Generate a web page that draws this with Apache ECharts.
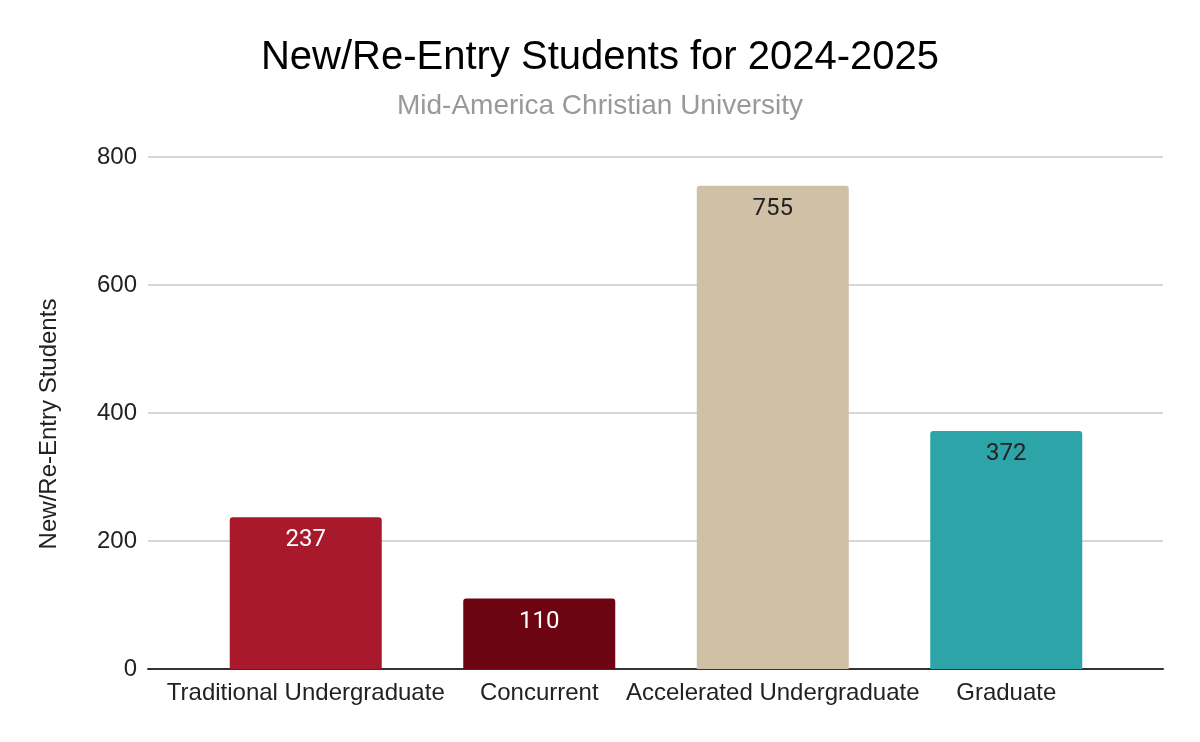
<!DOCTYPE html>
<html><head><meta charset="utf-8">
<script src="https://cdn.jsdelivr.net/npm/echarts@6/dist/echarts.min.js"></script>
<style>html,body{margin:0;padding:0;background:#fff}#c{width:1200px;height:742px}</style>
</head><body><div id="c"></div>
<script>
const categories = ["Traditional Undergraduate", "Concurrent", "Accelerated Undergraduate", "Graduate"];
const values = [237, 110, 755, 372];
const barColors = ["#a8192c", "#6d0411", "#d0c1a6", "#2ca4a8"];
const labelColors = ["#ffffff", "#ffffff", "#222222", "#222222"];
const yTicks = [0, 200, 400, 600, 800];

const chart = echarts.init(document.getElementById('c'));
const font = 'Arial, "Liberation Sans", sans-serif';
chart.setOption({
  animation: false,
  title: {
    text: "New/Re-Entry Students for 2024-2025",
    subtext: "Mid-America Christian University",
    left: 'center', top: 33, itemGap: 14,
    textStyle: {fontFamily: font, fontSize: 40, fontWeight: 'normal', color: '#000'},
    subtextStyle: {fontFamily: font, fontSize: 28, color: '#999'}
  },
  grid: [
    {left: 189, right: 77, top: 157, bottom: 73},
    {left: 148, right: 37, top: 157, bottom: 73}
  ],
  xAxis: [
    {gridIndex: 0, type: 'category', data: categories,
     axisLine: {show: false}, axisTick: {show: false},
     axisLabel: {fontFamily: font, fontSize: 24, color: '#222', margin: 12, interval: 0}},
    {gridIndex: 1, type: 'value', min: 0, max: 1, show: true,
     axisLine: {show: true, onZero: false, lineStyle: {color: '#333', width: 2}},
     axisTick: {show: false}, axisLabel: {show: false}, splitLine: {show: false}}
  ],
  yAxis: [
    {gridIndex: 0, type: 'value', min: yTicks[0], max: yTicks[yTicks.length-1], interval: 200, show: false},
    {gridIndex: 1, type: 'value', min: yTicks[0], max: yTicks[yTicks.length-1], interval: 200,
     axisLine: {show: false}, axisTick: {show: false},
     axisLabel: {fontFamily: font, fontSize: 24, color: '#222', margin: 11},
     splitLine: {lineStyle: {color: '#c8c8c8', width: 1.5}},
     name: "New/Re-Entry Students", nameLocation: 'middle', nameGap: 87, nameRotate: 90,
     nameTextStyle: {fontFamily: font, fontSize: 24, color: '#222', padding: [0, 22, 0, 0]}}
  ],
  series: [{
    type: 'bar', xAxisIndex: 0, yAxisIndex: 0, barWidth: 152,
    data: values.map((v, i) => ({
      value: v,
      itemStyle: {color: barColors[i], borderRadius: [3, 3, 0, 0]},
      label: {color: labelColors[i]}
    })),
    label: {show: true, position: 'insideTop', distance: 11,
      fontFamily: 'Roboto, Arial, sans-serif', fontSize: 24}
  }]
});
</script></body></html>
